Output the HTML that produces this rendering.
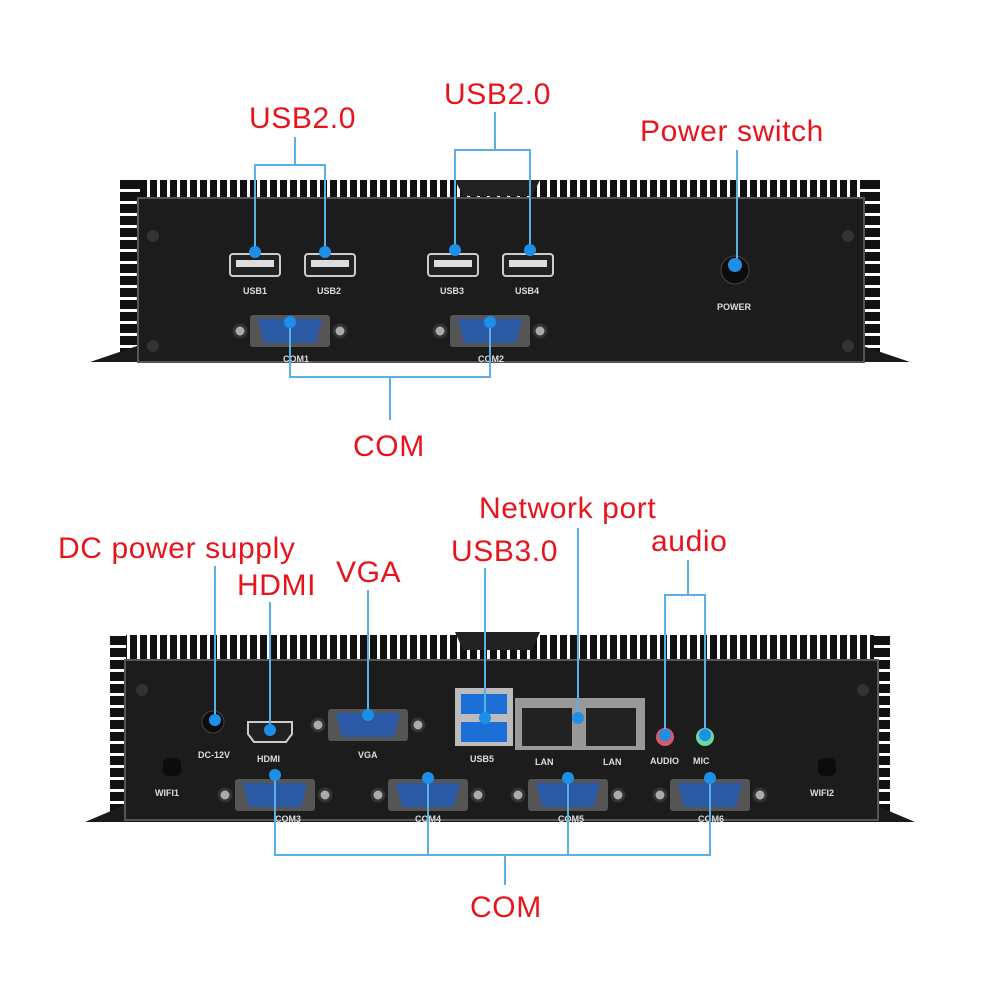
<!DOCTYPE html>
<html><head><meta charset="utf-8"><style>
html,body{margin:0;padding:0;background:#fff;width:1000px;height:1000px;overflow:hidden}
svg{display:block}
.lbl{font-family:"Liberation Sans",sans-serif;font-size:30px;letter-spacing:0.6px;fill:#e8141c}
.pl{font-family:"Liberation Sans",sans-serif;font-size:9px;fill:#ddd;font-weight:bold}
.bl{stroke:#5ab0e6;stroke-width:2;fill:none}
.dot{fill:#1e8fe6}
</style></head><body>
<svg width="1000" height="1000" viewBox="0 0 1000 1000">
<defs>
<pattern id="vf" width="10" height="20" patternUnits="userSpaceOnUse"><rect width="10" height="20" fill="#111"/><rect x="7" width="3" height="20" fill="#fff"/></pattern>
<pattern id="hf" width="20" height="12" patternUnits="userSpaceOnUse"><rect width="20" height="12" fill="#111"/><rect y="9" width="20" height="3" fill="#fff"/></pattern>
<g id="usb"><rect x="-25" y="-11" width="50" height="22" rx="3" fill="#222" stroke="#ccc" stroke-width="2"/><rect x="-19" y="-5" width="38" height="7" fill="#ddd"/></g>
<g id="db9"><circle cx="-50" cy="0" r="6" fill="#aaa" stroke="#333" stroke-width="3"/><circle cx="50" cy="0" r="6" fill="#aaa" stroke="#333" stroke-width="3"/><rect x="-40" y="-16" width="80" height="32" rx="3" fill="#555"/><path d="M-32,-12 H32 L26,12 H-26 Z" fill="#2a5aa6"/></g>
</defs>

<rect x="120" y="180" width="760" height="20" fill="url(#vf)"/>
<rect x="120" y="180" width="20" height="180" fill="url(#hf)"/>
<rect x="860" y="180" width="20" height="180" fill="url(#hf)"/>
<path d="M455,180 H540 L532,196 H463 Z" fill="#222"/>
<path d="M90,362 L140,345 H860 L910,362 Z" fill="#1a1a1a"/>
<rect x="138" y="198" width="726" height="164" fill="#1c1c1c" stroke="#555" stroke-width="2"/>
<circle cx="153" cy="236" r="6" fill="#333"/><circle cx="153" cy="346" r="6" fill="#333"/>
<circle cx="848" cy="236" r="6" fill="#333"/><circle cx="848" cy="346" r="6" fill="#333"/>
<use href="#usb" x="255" y="265"/><use href="#usb" x="330" y="265"/>
<use href="#usb" x="453" y="265"/><use href="#usb" x="528" y="265"/>
<text class="pl" x="243" y="294">USB1</text><text class="pl" x="317" y="294">USB2</text>
<text class="pl" x="440" y="294">USB3</text><text class="pl" x="515" y="294">USB4</text>
<circle cx="735" cy="270" r="14" fill="#0c0c0c" stroke="#444"/>
<text class="pl" x="717" y="310">POWER</text>
<use href="#db9" x="290" y="331"/><use href="#db9" x="490" y="331"/>
<text class="pl" x="283" y="362">COM1</text><text class="pl" x="478" y="362">COM2</text>

<text class="lbl" x="249" y="128">USB2.0</text>
<text class="lbl" x="444" y="104">USB2.0</text>
<text class="lbl" x="640" y="141">Power switch</text>
<text class="lbl" x="353" y="456">COM</text>
<path class="bl" d="M295,137V165M255,250V165H325V250"/>
<path class="bl" d="M495,112V150M455,248V150H530V248"/>
<path class="bl" d="M737,150V265"/>
<path class="bl" d="M290,322V377H490V322M390,377V420"/>
<circle class="dot" cx="255" cy="252" r="6"/><circle class="dot" cx="325" cy="252" r="6"/>
<circle class="dot" cx="455" cy="250" r="6"/><circle class="dot" cx="530" cy="250" r="6"/>
<circle class="dot" cx="735" cy="265" r="7"/>
<circle class="dot" cx="290" cy="322" r="6"/><circle class="dot" cx="490" cy="322" r="6"/>

<rect x="110" y="635" width="780" height="25" fill="url(#vf)"/>
<rect x="110" y="635" width="16" height="180" fill="url(#hf)"/>
<rect x="874" y="635" width="16" height="180" fill="url(#hf)"/>
<path d="M455,632 H540 L532,650 H463 Z" fill="#222"/>
<path d="M85,822 L125,805 H875 L915,822 Z" fill="#1a1a1a"/>
<rect x="125" y="660" width="753" height="160" fill="#1c1c1c" stroke="#555" stroke-width="2"/>
<circle cx="142" cy="690" r="6" fill="#333"/><circle cx="863" cy="690" r="6" fill="#333"/>
<rect x="163" y="758" width="18" height="18" rx="6" fill="#0c0c0c"/><rect x="818" y="758" width="18" height="18" rx="6" fill="#0c0c0c"/>
<text class="pl" x="155" y="796">WIFI1</text><text class="pl" x="810" y="796">WIFI2</text>
<circle cx="213" cy="722" r="11" fill="#0c0c0c" stroke="#444"/>
<text class="pl" x="198" y="758">DC-12V</text>
<path d="M248,722 H292 V734 L286,742 H254 L248,734 Z" fill="#222" stroke="#ccc" stroke-width="2"/>
<text class="pl" x="257" y="762">HDMI</text>
<use href="#db9" x="368" y="725"/>
<text class="pl" x="358" y="758">VGA</text>
<rect x="455" y="688" width="58" height="58" fill="#bbb"/>
<rect x="461" y="694" width="46" height="20" fill="#1b6fd6"/><rect x="461" y="722" width="46" height="20" fill="#1b6fd6"/>
<text class="pl" x="470" y="762">USB5</text>
<rect x="515" y="698" width="130" height="52" fill="#999"/>
<rect x="522" y="708" width="50" height="38" fill="#222"/><rect x="586" y="708" width="50" height="38" fill="#222"/>
<text class="pl" x="535" y="765">LAN</text><text class="pl" x="603" y="765">LAN</text>
<circle cx="665" cy="737" r="9" fill="#d85a6a"/><circle cx="665" cy="737" r="4" fill="#222"/>
<circle cx="705" cy="737" r="9" fill="#6ad8a0"/><circle cx="705" cy="737" r="4" fill="#222"/>
<text class="pl" x="650" y="764">AUDIO</text><text class="pl" x="693" y="764">MIC</text>
<use href="#db9" x="275" y="795"/><use href="#db9" x="428" y="795"/>
<use href="#db9" x="568" y="795"/><use href="#db9" x="710" y="795"/>
<text class="pl" x="275" y="822">COM3</text><text class="pl" x="415" y="822">COM4</text>
<text class="pl" x="558" y="822">COM5</text><text class="pl" x="698" y="822">COM6</text>

<text class="lbl" x="58" y="558">DC power supply</text>
<text class="lbl" x="237" y="595">HDMI</text>
<text class="lbl" x="336" y="582">VGA</text>
<text class="lbl" x="451" y="561">USB3.0</text>
<text class="lbl" x="479" y="518">Network port</text>
<text class="lbl" x="651" y="551">audio</text>
<text class="lbl" x="470" y="917">COM</text>
<path class="bl" d="M215,566V720"/>
<path class="bl" d="M270,602V730"/>
<path class="bl" d="M368,590V715"/>
<path class="bl" d="M485,568V718"/>
<path class="bl" d="M578,528V718"/>
<path class="bl" d="M688,560V595M665,735V595H705V735"/>
<path class="bl" d="M275,775V855H710V778M428,778V855M568,778V855M505,855V885"/>
<circle class="dot" cx="215" cy="720" r="6"/><circle class="dot" cx="270" cy="730" r="6"/>
<circle class="dot" cx="368" cy="715" r="6"/><circle class="dot" cx="485" cy="718" r="6"/>
<circle class="dot" cx="578" cy="718" r="6"/>
<circle class="dot" cx="665" cy="735" r="6"/><circle class="dot" cx="705" cy="735" r="6"/>
<circle class="dot" cx="275" cy="775" r="6"/><circle class="dot" cx="428" cy="778" r="6"/>
<circle class="dot" cx="568" cy="778" r="6"/><circle class="dot" cx="710" cy="778" r="6"/>
</svg>
</body></html>
